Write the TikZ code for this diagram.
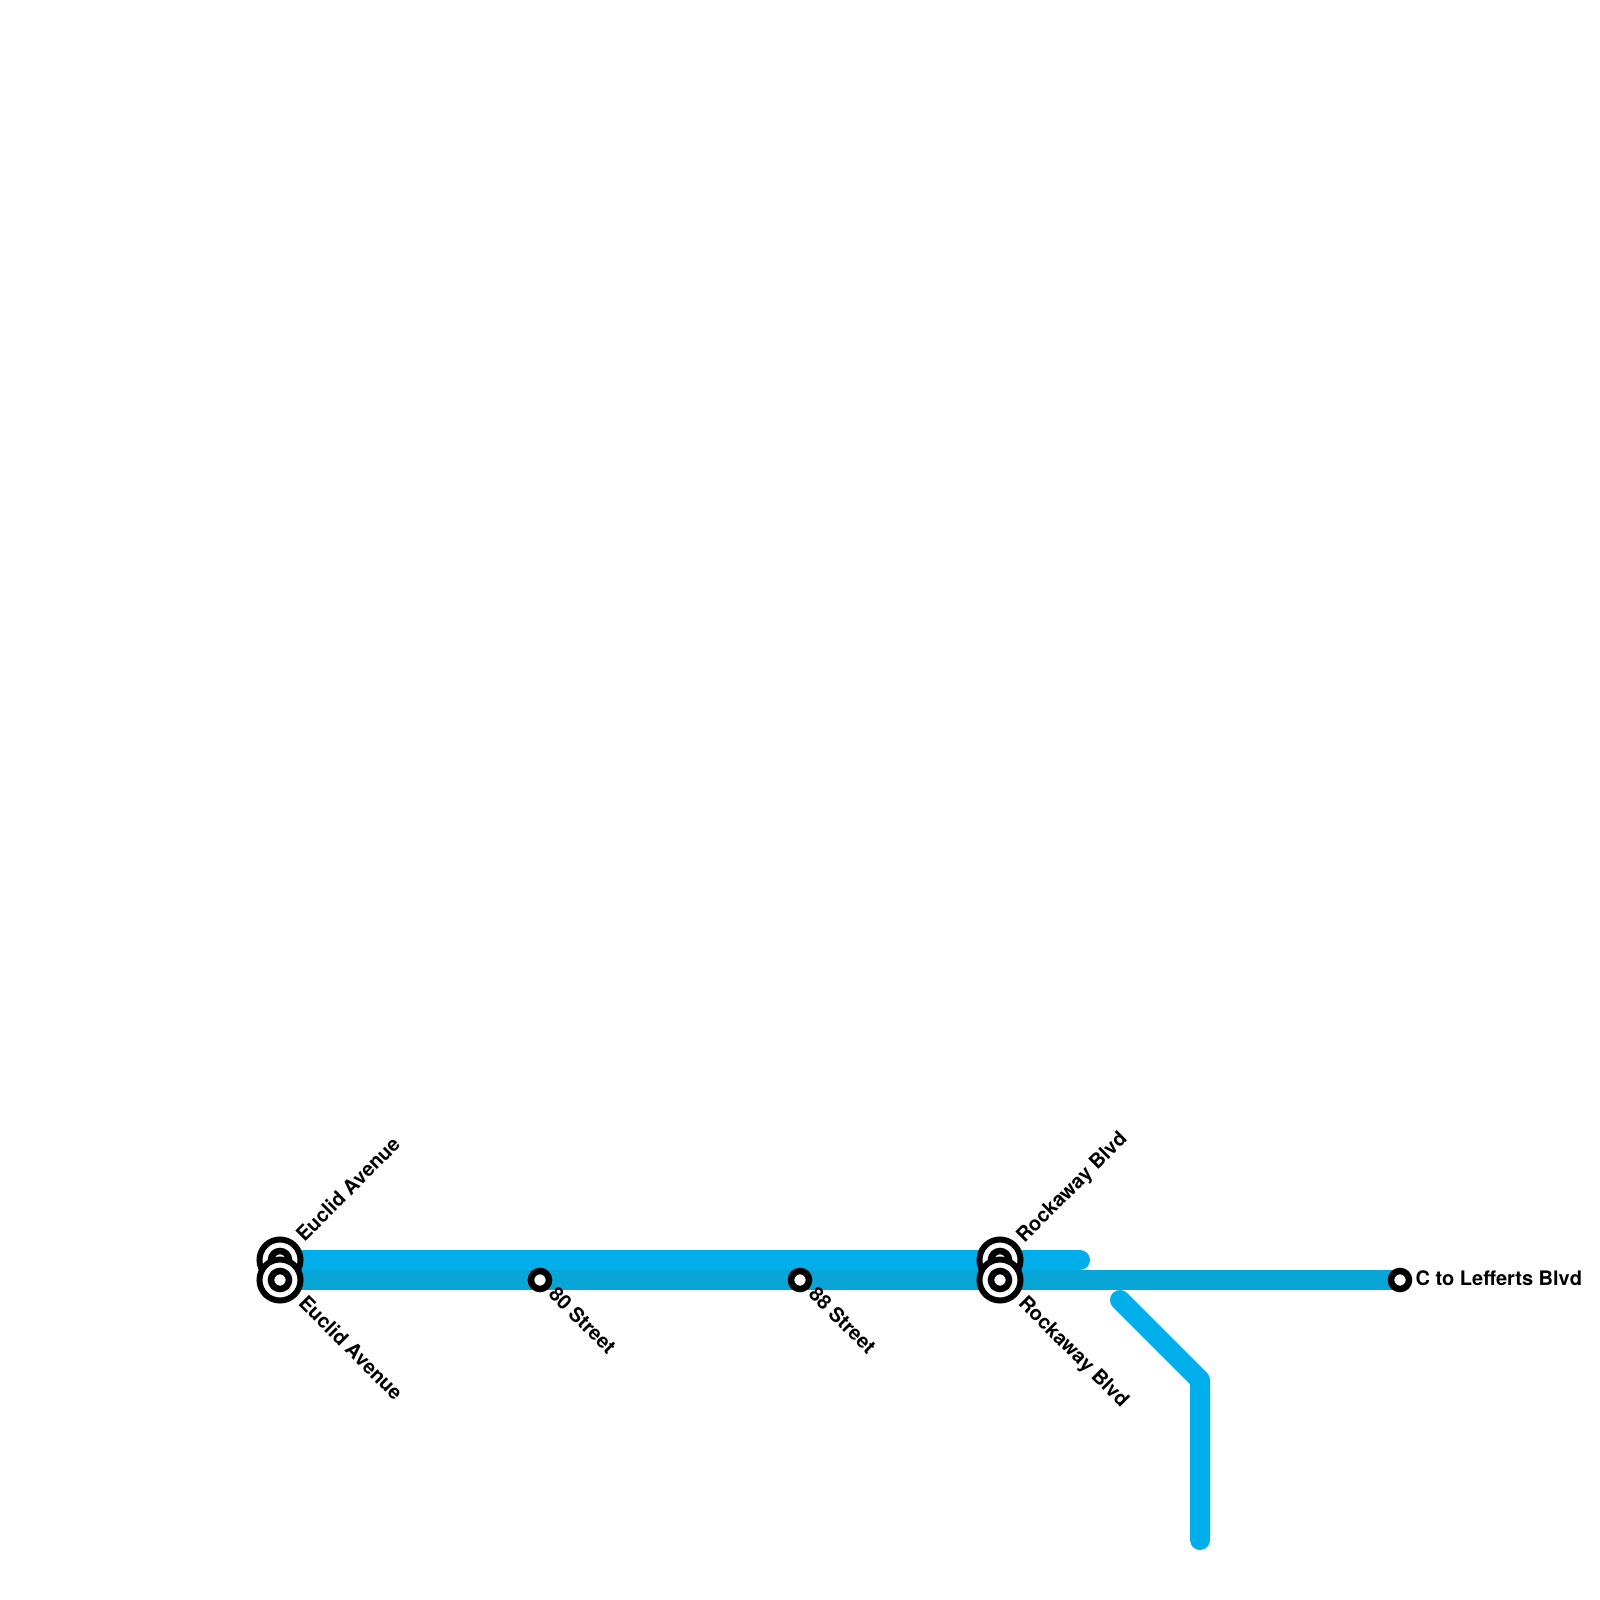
\documentclass[tikz,border=0pt]{standalone}
\usepackage{fontspec}
\setmainfont{TeX Gyre Heros}
\definecolor{lineupper}{HTML}{00AEEB}
\definecolor{linelower}{HTML}{09A5D6}
\tikzset{
	track/.style={line width=0.2cm, line cap=round, line join=round},
	stop/.style={circle, draw=black, fill=white, line width=0.065cm, minimum size=0.18cm, inner sep=0pt},
	hub/.style={circle, draw=black, fill=white, line width=0.06cm, minimum size=0.41cm, inner sep=0pt},
	stoplabel/.style={inner sep=0pt, font=\bfseries\fontsize{5.69pt}{6.8pt}\selectfont},
}
\begin{document}
\begin{tikzpicture}[x=0.01cm, y=-0.01cm]
		\useasboundingbox (0,0) rectangle (1600,1600);
		% Line ends
		\coordinate (upperstart) at (280,1260);
		\coordinate (upperend) at (1080,1260);
		\coordinate (lowerstart) at (280,1280);
		\coordinate (lowerend) at (1400,1280);
		\coordinate (branchtop) at (1120,1300);
		\coordinate (branchbend) at (1200,1380);
		\coordinate (branchend) at (1200,1540);
		% Tracks
		\draw[track, lineupper] (upperstart) -- (upperend);
		\draw[track, lineupper] (branchtop) -- (branchbend) -- (branchend);
		\draw[track, linelower] (lowerstart) -- (lowerend);
		% Upper stations
		\node[hub] (euclidupper) at (280,1260) {};
		\node[stop] (euclidupperin) at (280,1260) {};
		\node[hub] (rockawayupper) at (1000,1260) {};
		\node[stop] (rockawayupperin) at (1000,1260) {};
		% Lower stations
		\node[hub] (euclidlower) at (280,1280) {};
		\node[stop] (euclidlowerin) at (280,1280) {};
		\node[stop] (street80) at (540,1280) {};
		\node[stop] (street88) at (800,1280) {};
		\node[hub] (rockawaylower) at (1000,1280) {};
		\node[stop] (rockawaylowerin) at (1000,1280) {};
		\node[stop] (lefferts) at (1400,1280) {};
		% Labels
		\node[stoplabel, rotate=45, anchor=base west] (euclidupperlabel) at (304,1243) {Euclid Avenue};
		\node[stoplabel, rotate=-45, anchor=base west] (euclidlowerlabel) at (297,1304) {Euclid Avenue};
		\node[stoplabel, rotate=-45, anchor=base west] (street80label) at (547,1295) {80 Street};
		\node[stoplabel, rotate=-45, anchor=base west] (street88label) at (807,1295) {88 Street};
		\node[stoplabel, rotate=45, anchor=base west] (rockawayupperlabel) at (1024,1244) {Rockaway Blvd};
		\node[stoplabel, rotate=-45, anchor=base west] (rockawaylowerlabel) at (1017,1304) {Rockaway Blvd};
		\node[stoplabel, anchor=base west] (leffertslabel) at (1415,1285) {C to Lefferts Blvd};
	\end{tikzpicture}
\end{document}
